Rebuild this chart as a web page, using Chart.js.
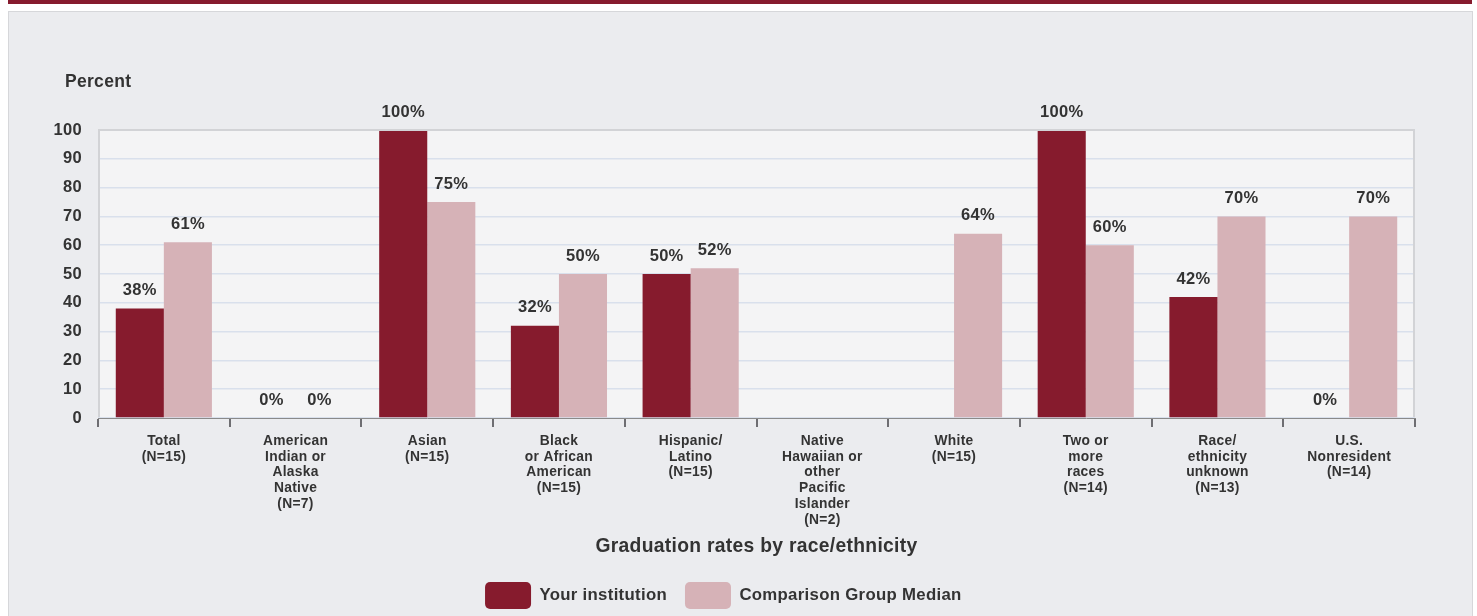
<!DOCTYPE html>
<html>
<head>
<meta charset="utf-8">
<script src="https://cdn.jsdelivr.net/npm/chart.js@4"></script>
<style>
  html, body { margin: 0; padding: 0; background: #ffffff; overflow: hidden; }
  #topbar { position: absolute; left: 8px; top: 0; width: 1464px; height: 4px; background: #861b2e; }
  #panel { position: absolute; left: 8px; top: 11px; width: 1463px; height: 620px; background: #ebecef; border: 1px solid #d6d7da; }
  #wrap { position: absolute; left: 0; top: 0; width: 1477px; height: 620px; }
</style>
</head>
<body>
<div id="topbar"></div>
<div id="panel"></div>
<div id="wrap"><canvas id="myChart"></canvas></div>
<script>
// 類別（多行標籤）
const categories = [
    ['Total', '(N=15)'],
    ['American', 'Indian or', 'Alaska', 'Native', '(N=7)'],
    ['Asian', '(N=15)'],
    ['Black', 'or African', 'American', '(N=15)'],
    ['Hispanic/', 'Latino', '(N=15)'],
    ['Native', 'Hawaiian or', 'other', 'Pacific', 'Islander', '(N=2)'],
    ['White', '(N=15)'],
    ['Two or', 'more', 'races', '(N=14)'],
    ['Race/', 'ethnicity', 'unknown', '(N=13)'],
    ['U.S.', 'Nonresident', '(N=14)']
];

// 數據
const institutionValues = [38, 0, 100, 32, 50, null, null, 100, 42, 0];
const comparisonValues  = [61, 0, 75, 50, 52, null, 64, 60, 70, 70];

const yTicks = [0, 10, 20, 30, 40, 50, 60, 70, 80, 90, 100];

const FONT = '"Liberation Sans", Arial, Helvetica, sans-serif';
const TEXT = '#333333';
const SPACING = '0.3px';

// 外掛：繪圖區背景、邊框、標題與數值標籤
const decorPlugin = {
    id: 'decor',
    afterLayout(chart) {
        // 圖例稍微往右移，對齊原圖
        if (chart.legend) {
            chart.legend.left += 10;
            chart.legend.right += 10;
        }
    },
    beforeDraw(chart) {
        const {ctx, chartArea: a} = chart;
        ctx.letterSpacing = SPACING;
        ctx.save();
        ctx.fillStyle = '#f4f4f5';
        ctx.fillRect(a.left, a.top, a.right - a.left, a.bottom - a.top);
        ctx.restore();
    },
    afterDraw(chart) {
        const {ctx, chartArea: a} = chart;
        ctx.save();
        ctx.strokeStyle = '#d2d3d6';
        ctx.lineWidth = 2;
        ctx.beginPath();
        ctx.moveTo(a.left + 1, a.bottom - 1);
        ctx.lineTo(a.left + 1, a.top);
        ctx.lineTo(a.right - 1, a.top);
        ctx.lineTo(a.right - 1, a.bottom - 1);
        ctx.stroke();
        ctx.restore();
    },
    afterDatasetsDraw(chart) {
        const {ctx, chartArea: a} = chart;
        ctx.save();
        ctx.letterSpacing = SPACING;
        ctx.fillStyle = TEXT;
        ctx.font = 'bold 16.5px ' + FONT;
        ctx.textAlign = 'center';
        ctx.textBaseline = 'middle';
        chart.data.datasets.forEach((ds, i) => {
            const meta = chart.getDatasetMeta(i);
            meta.data.forEach((bar, j) => {
                const v = ds.data[j];
                if (v === null || v === undefined) return;
                ctx.fillText(v + '%', bar.x, bar.y - 18);
            });
        });
        // 「Percent」標題
        ctx.font = 'bold 17.5px ' + FONT;
        ctx.textAlign = 'left';
        ctx.fillText('Percent', a.left - 33, a.top - 48);
        ctx.restore();
    }
};

const ctx = document.getElementById('myChart').getContext('2d');
const myChart = new Chart(ctx, {
    type: 'bar',
    data: {
        labels: categories,
        datasets: [
            {
                label: 'Your institution',
                data: institutionValues,
                backgroundColor: '#861b2d',
                categoryPercentage: 0.73,
                barPercentage: 1.0
            },
            {
                label: 'Comparison Group Median',
                data: comparisonValues,
                backgroundColor: '#d6b2b7',
                categoryPercentage: 0.73,
                barPercentage: 1.0
            }
        ]
    },
    options: {
        responsive: true,
        maintainAspectRatio: false,
        animation: false,
        layout: {
            padding: { top: 130, right: 62, bottom: 1, left: 0 }
        },
        plugins: {
            tooltip: { enabled: false },
            legend: {
                position: 'bottom',
                labels: {
                    boxWidth: 46,
                    boxHeight: 27,
                    padding: 18,
                    color: TEXT,
                    useBorderRadius: true,
                    borderRadius: 5,
                    font: { family: FONT, size: 16.8, weight: 'bold' }
                }
            }
        },
        scales: {
            x: {
                grid: {
                    display: true,
                    drawOnChartArea: false,
                    drawTicks: true,
                    tickLength: 9,
                    lineWidth: 2,
                    color: '#6e6e72',
                    offset: true
                },
                border: { display: true, color: '#8a8a8a', width: 1 },
                ticks: {
                    color: TEXT,
                    padding: 6,
                    maxRotation: 0,
                    autoSkip: false,
                    font: { family: FONT, size: 13.8, weight: 'bold', lineHeight: 1.15 }
                },
                title: {
                    display: true,
                    text: 'Graduation rates by race/ethnicity',
                    color: TEXT,
                    padding: { top: 0, bottom: 6 },
                    font: { family: FONT, size: 19.3, weight: 'bold' }
                },
                afterFit(scale) { scale.height = 146; }
            },
            y: {
                min: 0,
                max: 100,
                afterBuildTicks(scale) { scale.ticks = yTicks.map(v => ({ value: v })); },
                grid: {
                    color: '#d9e0ec',
                    lineWidth: 1.5,
                    drawTicks: false
                },
                border: { display: false },
                ticks: {
                    color: TEXT,
                    padding: 16,
                    font: { family: FONT, size: 16.5, weight: 'bold' }
                },
                afterFit(scale) { scale.width = 98; }
            }
        }
    },
    plugins: [decorPlugin]
});
</script>
</body>
</html>
